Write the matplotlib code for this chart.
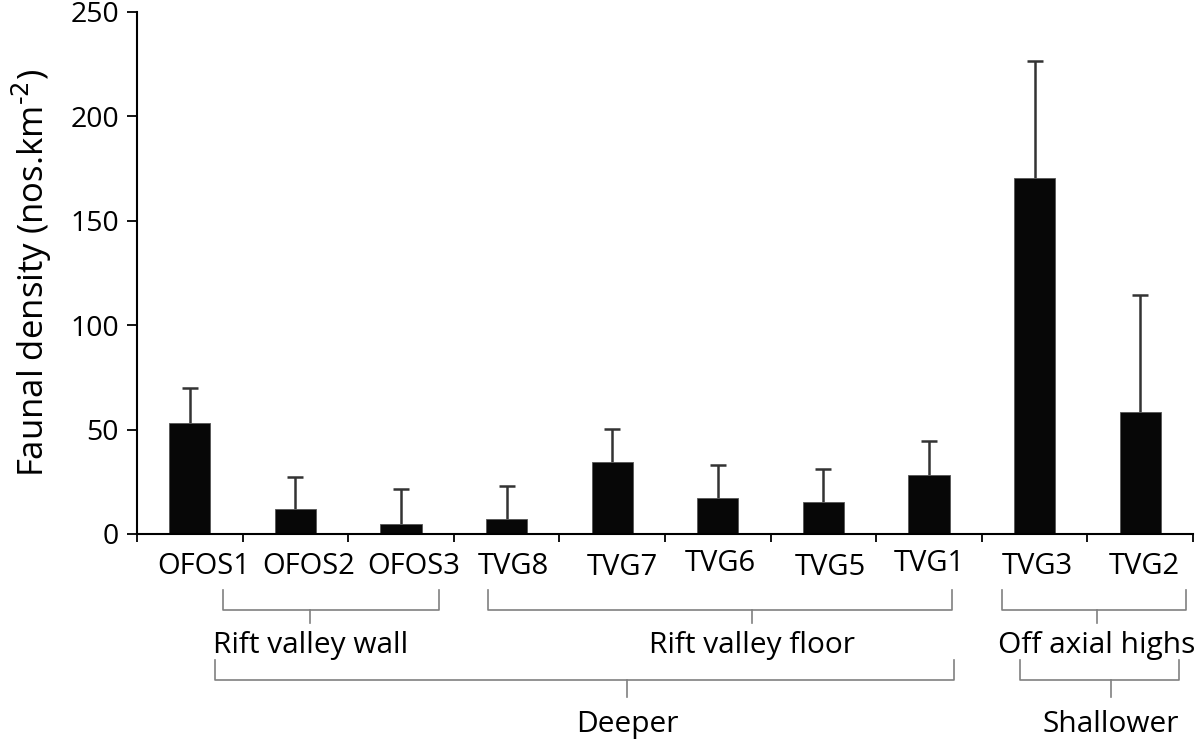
import matplotlib
matplotlib.use('Agg')
import matplotlib.pyplot as plt
import matplotlib.transforms as mtransforms
import numpy as np

plt.rcParams['font.family'] = ['Open Sans', 'DejaVu Sans']

# data
sites = ['OFOS1', 'OFOS2', 'OFOS3', 'TVG8', 'TVG7', 'TVG6', 'TVG5', 'TVG1', 'TVG3', 'TVG2']
density = [53, 12, 5, 7, 34.6, 17.2, 15.5, 28.4, 170.5, 58.5]
upper_err = [17, 15.5, 16.7, 16, 15.8, 15.7, 15.8, 16, 56, 56]

# group brackets: (label, start, end, centre) in category units
groups = [('Rift valley wall', 0.31, 2.36, 1.14),
          ('Rift valley floor', 2.82, 7.22, 5.32),
          ('Off axial highs', 7.69, 9.43, 8.59)]
depth_groups = [('Deeper', 0.24, 7.24, 4.14),
                ('Shallower', 7.86, 9.37, 8.72)]

# hand placed tick labels in the original (pixel nudges)
lab_dx = [14, 13, 13, 7, 10, 3, 7, 0, 3, 4]
lab_dy = [0, 0, 0, 0, 1, -3, 1, -3, 0, 0]

W, H = 1200, 747
fig = plt.figure(figsize=(W / 100, H / 100), dpi=100)
ax = fig.add_axes([137 / W, 1 - 534 / H, (1193 - 137) / W, (534 - 12) / H])

x = np.arange(len(sites))
ax.bar(x, density, width=0.39, color='#070707', edgecolor='#555555', linewidth=0.6, zorder=2)
eb = ax.errorbar(x, density, yerr=[np.zeros(len(x)), upper_err], fmt='none',
                 ecolor='#333333', elinewidth=1.8, capsize=6, capthick=1.8, zorder=1)
eb[1][0].set_visible(False)  # hide lower caps

ax.set_xlim(-0.5, 9.5)
ax.set_ylim(0, 250)
ax.set_yticks([0, 50, 100, 150, 200, 250])
ax.tick_params(axis='y', direction='out', length=7, width=1.3, labelsize=20.5, pad=6)

ax.set_xticks(x)
ax.set_xticklabels(sites, fontsize=21)
ax.tick_params(axis='x', length=0, pad=13)
ax.set_xticks(np.arange(-0.5, 10, 1), minor=True)
ax.tick_params(axis='x', which='minor', direction='out', length=6, width=1.3)
for lbl, dx, dy in zip(ax.get_xticklabels(), lab_dx, lab_dy):
    off = mtransforms.ScaledTranslation(dx / 100, -dy / 100, fig.dpi_scale_trans)
    lbl.set_transform(lbl.get_transform() + off)

for s in ['top', 'right']:
    ax.spines[s].set_visible(False)
for s in ['left', 'bottom']:
    ax.spines[s].set_linewidth(1.5)

ax.set_ylabel(r'Faunal density (nos.km$^{\text{-2}}$)', fontsize=25, labelpad=12)

# brackets under the axis
tr = mtransforms.blended_transform_factory(ax.transData, fig.transFigure)
lc = '#808080'


def fy(py):
    return 1 - py / H


def bracket(x0, x1, xc, ytop, ybar, ytick):
    ax.plot([x0, x0, x1, x1], [fy(ytop), fy(ybar), fy(ybar), fy(ytop)],
            transform=tr, color=lc, lw=1.2, clip_on=False)
    ax.plot([xc, xc], [fy(ybar), fy(ytick)], transform=tr, color=lc, lw=1.2, clip_on=False)


for label, x0, x1, xc in groups:
    bracket(x0, x1, xc, 590, 610, 623)
    ax.text(xc, fy(653), label, transform=tr, ha='center', va='baseline', fontsize=21.5)

for label, x0, x1, xc in depth_groups:
    bracket(x0, x1, xc, 660, 680, 697)
    ax.text(xc, fy(732), label, transform=tr, ha='center', va='baseline', fontsize=21.5)

fig.savefig('out.png', dpi=100)
